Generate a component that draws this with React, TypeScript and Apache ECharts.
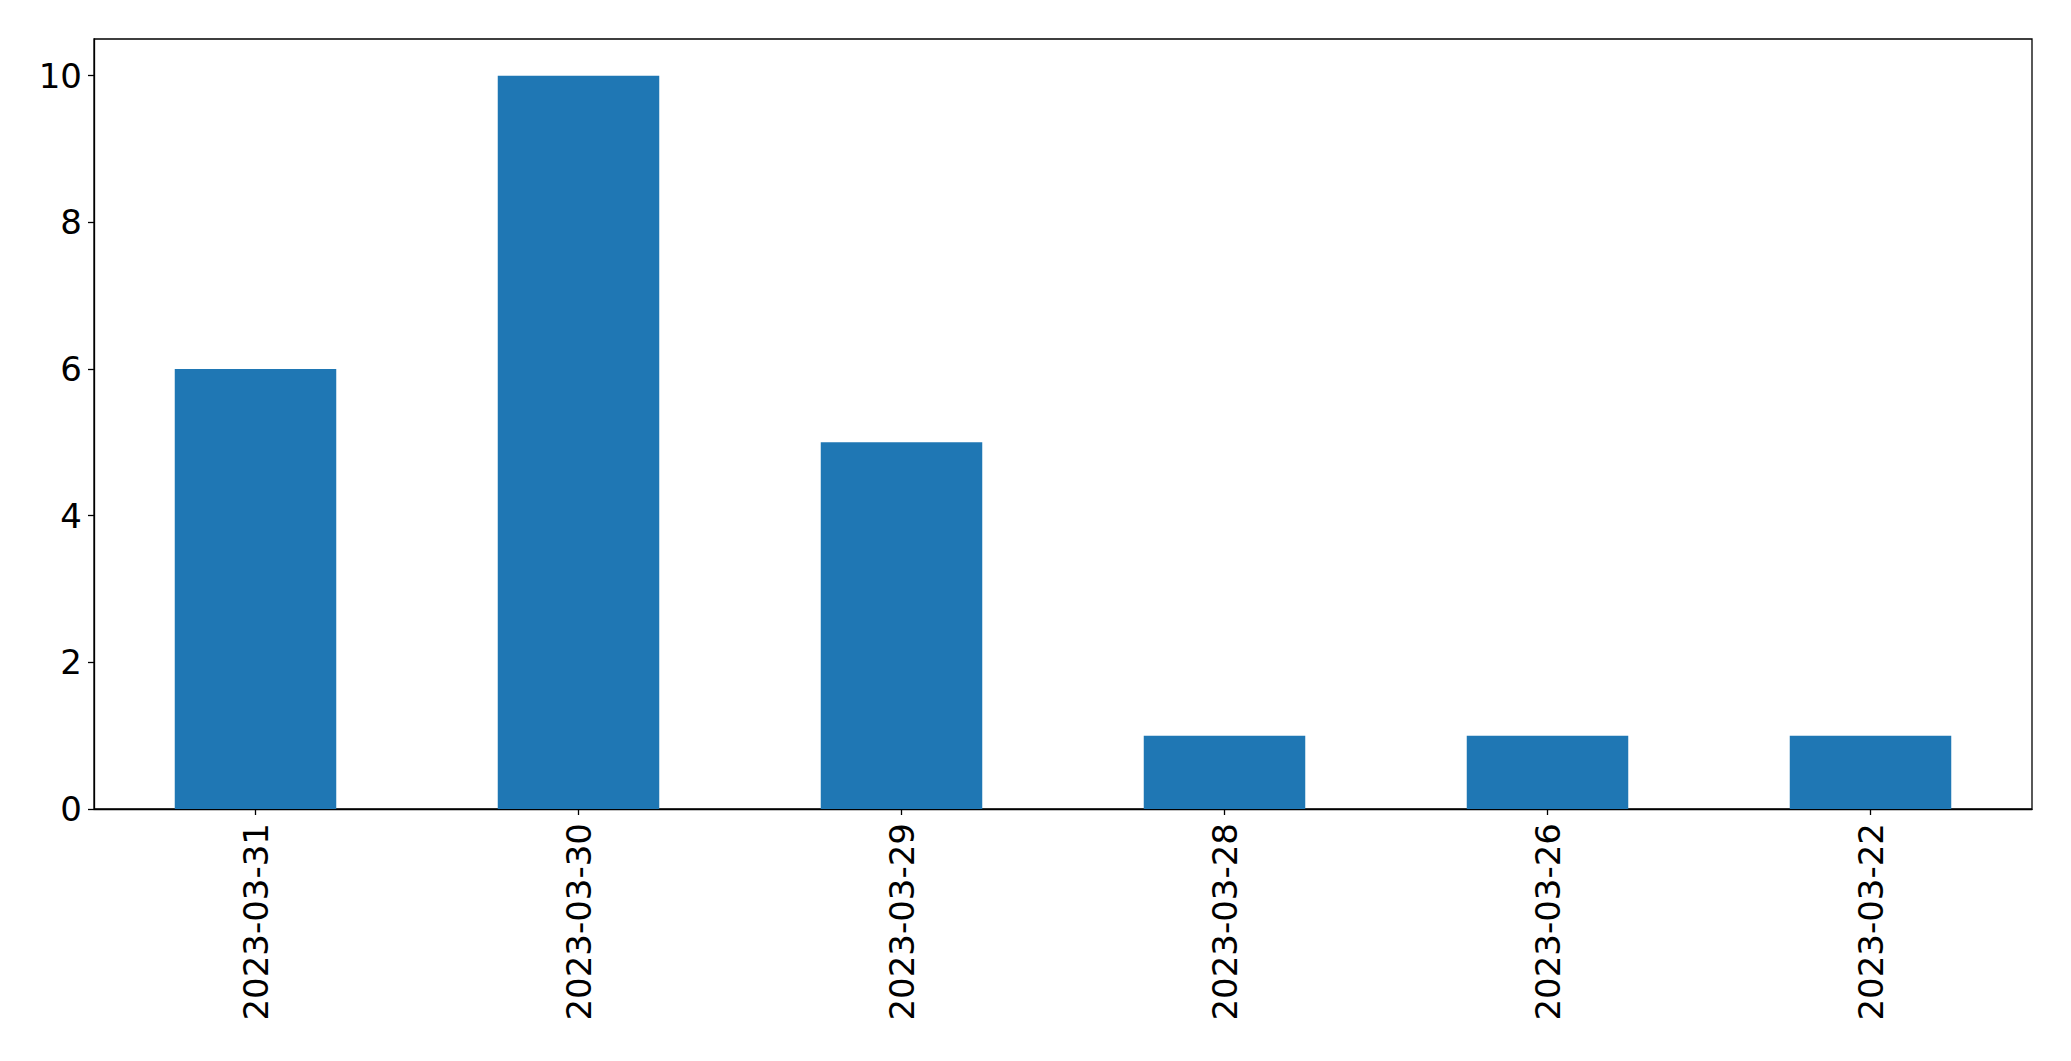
import React, { useEffect, useRef } from "react";
import * as echarts from "echarts";

const categories = ["2023-03-31", "2023-03-30", "2023-03-29", "2023-03-28", "2023-03-26", "2023-03-22"];
const values = [6, 10, 5, 1, 1, 1];
const yTicks = [0, 2, 4, 6, 8, 10];

export default function App() {
  const ref = useRef<HTMLDivElement>(null);
  useEffect(() => {
    document.body.style.margin = "0";
    const chart = echarts.init(ref.current!, null, { renderer: "svg" });
    const font = "DejaVu Sans";
    chart.setOption({
      animation: false,
      backgroundColor: "#ffffff",
      grid: {
        left: 94,
        right: 39,
        top: 39,
        bottom: 252,
        show: true,
        borderColor: "#000000",
        borderWidth: 1.3,
        backgroundColor: "transparent",
      },
      xAxis: {
        type: "category",
        data: categories,
        axisLine: { show: true, lineStyle: { color: "#000", width: 1.3 } },
        axisTick: { show: true, alignWithLabel: true, length: 6, lineStyle: { color: "#000", width: 1.3 } },
        axisLabel: {
          rotate: 90,
          margin: 14,
          fontSize: 34,
          fontFamily: font,
          color: "#000",
        },
        splitLine: { show: false },
      },
      yAxis: {
        type: "value",
        min: 0,
        max: 10.5,
        interval: 2,
        axisLine: { show: true, lineStyle: { color: "#000", width: 1.3 } },
        axisTick: { show: true, length: 6, lineStyle: { color: "#000", width: 1.3 }, customValues: yTicks },
        axisLabel: {
          margin: 12,
          fontSize: 34,
          fontFamily: font,
          color: "#000",
          customValues: yTicks,
        },
        splitLine: { show: false },
      },
      series: [
        {
          type: "bar",
          data: values,
          barCategoryGap: "50%",
          itemStyle: { color: "#1f77b4" },
        },
      ],
    });
    return () => chart.dispose();
  }, []);
  return <div ref={ref} style={{ position: "fixed", left: 0, top: 0, width: 2071, height: 1061 }} />;
}
